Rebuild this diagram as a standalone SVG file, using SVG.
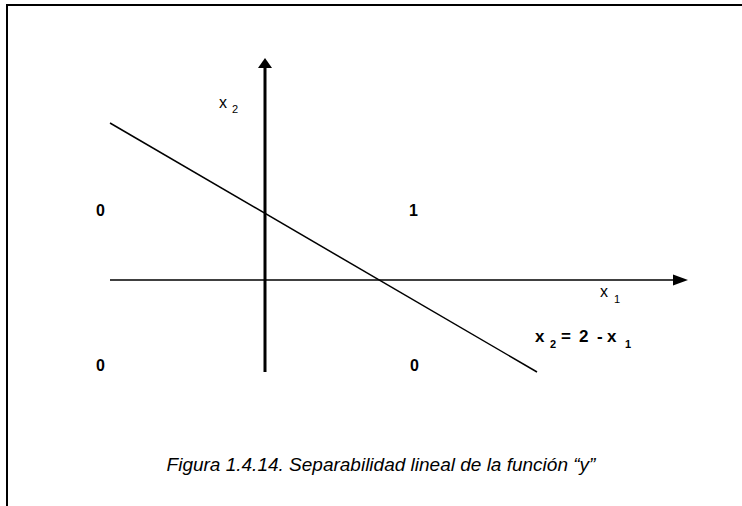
<svg xmlns="http://www.w3.org/2000/svg" width="742" height="506" viewBox="0 0 742 506">
<style>
.ax{stroke:#000;stroke-width:3;fill:none}
.ln{stroke:#000;stroke-width:1.5;fill:none}
.t{font-family:"Liberation Sans",Arial,sans-serif;fill:#000}
.b{font-weight:bold}
.m{font-size:16px}
.e{font-size:17px}
.s{font-size:11px}
.n{font-size:16px;font-weight:bold}
</style>
<rect x="0" y="0" width="742" height="506" fill="#fff"/>
<path d="M7,506 V5 H742" stroke="#000" stroke-width="2" fill="none"/>
<g id="connectors">
<line class="ax" x1="265" y1="372" x2="265" y2="66"/>
<polygon points="265,58 258,68 272,68" fill="#000"/>
<line class="ln" x1="110" y1="280" x2="675" y2="280"/>
<polygon points="688,280 673,274.5 673,285.5" fill="#000"/>
<line class="ln" x1="110" y1="123" x2="537" y2="372"/>
</g>
<g id="label-x2"><text class="t m" x="219" y="108">x</text><text class="t s" x="232" y="113">2</text></g>
<g id="label-x1"><text class="t m" x="600" y="297">x</text><text class="t s" x="614" y="303">1</text></g>
<g id="eq">
<text class="t b e" x="535" y="342">x</text>
<text class="t b s" x="550" y="348">2</text>
<text class="t b e" x="561" y="342">=</text>
<text class="t b e" x="579" y="342">2</text>
<text class="t b e" x="597" y="342">-</text>
<text class="t b e" x="607" y="342">x</text>
<text class="t b s" x="625" y="348">1</text>
</g>
<g id="r1"><text class="t n" x="96" y="216">0</text></g>
<g id="r2"><text class="t n" x="409" y="216">1</text></g>
<g id="r3"><text class="t n" x="96" y="371">0</text></g>
<g id="r4"><text class="t n" x="410" y="371">0</text></g>
<g id="caption"><text class="t" x="381" y="471" font-size="19" font-style="italic" text-anchor="middle">Figura 1.4.14. Separabilidad lineal de la función “y”</text></g>
</svg>
